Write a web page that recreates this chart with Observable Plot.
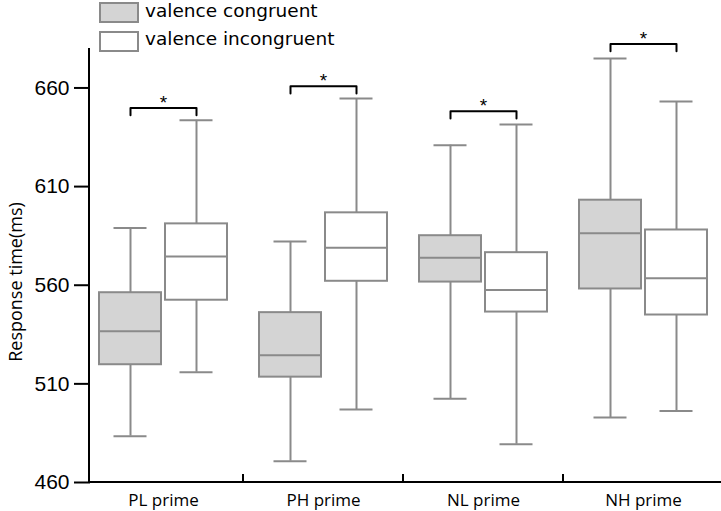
<!DOCTYPE html>
<html><head><meta charset="utf-8">
<script src="https://cdn.jsdelivr.net/npm/d3@7"></script>
<script src="https://cdn.jsdelivr.net/npm/@observablehq/plot@0.6"></script>
<style>
body{margin:0;background:#fff;}
#wrap{position:relative;width:721px;height:511px;overflow:hidden;}
.sw{position:absolute;left:99px;width:36px;height:17px;border:2px solid #8a8a8a;}
.lt{position:absolute;left:145px;font-family:"DejaVu Sans";font-size:18.5px;line-height:20px;white-space:nowrap;color:#000;}
#ylab{position:absolute;left:15px;top:282px;font-family:"Open Sans";font-size:18px;line-height:18px;white-space:nowrap;color:#000;transform:translate(-50%,-50%) rotate(-90deg);}
</style></head>
<body>
<div id="wrap">
  <div class="sw" style="top:2px;background:#d4d4d4;"></div>
  <div class="lt" style="top:1px;">valence congruent</div>
  <div class="sw" style="top:31px;background:#fff;"></div>
  <div class="lt" style="top:29.3px;">valence incongruent</div>
  <div id="ylab">Response time(ms)</div>
</div>
<script>
const categories = ["PL prime", "PH prime", "NL prime", "NH prime"];
const seriesNames = ["valence congruent", "valence incongruent"];
const yTicks = [460, 510, 560, 610, 660];

const congLower  = [483.5, 470.8, 502.5, 492.9];
const congQ1     = [519.7, 513.4, 561.6, 558.1];
const congMedian = [536.7, 524.5, 573.9, 586.4];
const congQ3     = [556.2, 546.1, 585.1, 603.1];
const congUpper  = [589.0, 582.2, 631.0, 674.9];

const incLower  = [515.9, 497.0, 479.4, 496.2];
const incQ1     = [552.4, 562.0, 546.4, 544.9];
const incMedian = [574.6, 579.0, 557.6, 563.6];
const incQ3     = [591.1, 596.7, 576.5, 588.0];
const incUpper  = [643.6, 654.6, 641.5, 653.1];

const bracketTop = [649.9, 660.9, 648.2, 682.3];
const sigLabels = ["*", "*", "*", "*"];

const boxes = [];
categories.forEach((c, i) => {
  boxes.push({cat: c, s: seriesNames[0], lo: congLower[i], q1: congQ1[i], med: congMedian[i], q3: congQ3[i], hi: congUpper[i]});
  boxes.push({cat: c, s: seriesNames[1], lo: incLower[i], q1: incQ1[i], med: incMedian[i], q3: incQ3[i], hi: incUpper[i]});
});
const legDrop = 3.7;
const brackets = categories.flatMap((c, i) => [
  {cat: c, s: seriesNames[0], y: bracketTop[i] - legDrop},
  {cat: c, s: seriesNames[0], y: bracketTop[i]},
  {cat: c, s: seriesNames[1], y: bracketTop[i]},
  {cat: c, s: seriesNames[1], y: bracketTop[i] - legDrop}
]);
const sig = categories.map((c, i) => ({cat: c, y: bracketTop[i], t: sigLabels[i]}));

const gray = "#8a8a8a";
const plot = Plot.plot({
  width: 721, height: 511,
  marginTop: 48, marginBottom: 29, marginLeft: 89, marginRight: 3,
  style: {fontFamily: "Open Sans", background: "transparent", overflow: "visible"},
  fx: {domain: categories, paddingInner: 0.0847, paddingOuter: 0, label: null},
  x: {domain: seriesNames, padding: 0, insetLeft: 7, insetRight: 7, axis: null},
  y: {domain: [460, 680]},
  color: {domain: seriesNames, range: ["#d4d4d4", "#ffffff"]},
  marks: [
    Plot.ruleX(boxes, {fx: "cat", x: "s", y1: "lo", y2: "hi", stroke: gray, strokeWidth: 2}),
    Plot.tickY(boxes, {fx: "cat", x: "s", y: "lo", stroke: gray, strokeWidth: 2, insetLeft: 16.5, insetRight: 16.5}),
    Plot.tickY(boxes, {fx: "cat", x: "s", y: "hi", stroke: gray, strokeWidth: 2, insetLeft: 16.5, insetRight: 16.5}),
    Plot.barY(boxes, {fx: "cat", x: "s", y1: "q1", y2: "q3", fill: "s", stroke: gray, strokeWidth: 2, insetLeft: 2, insetRight: 2}),
    Plot.tickY(boxes, {fx: "cat", x: "s", y: "med", stroke: gray, strokeWidth: 2, insetLeft: 2, insetRight: 2}),
    Plot.line(brackets, {fx: "cat", x: "s", y: "y", z: "cat", stroke: "black", strokeWidth: 2}),
    Plot.text(sig, {fx: "cat", y: "y", text: "t", dy: -5, fontSize: 19, fontFamily: "Liberation Sans", fill: "black"}),
    Plot.axisY({ticks: yTicks, tickSize: 16, tickPadding: 5, fontSize: 21, fontFamily: "Liberation Sans", strokeWidth: 2, label: null, color: "black"}),
    Plot.axisFx({anchor: "bottom", tickSize: 0, tickPadding: 11, fontSize: 17, fontFamily: "Open Sans", label: null, color: "black"})
  ]
});

// axis lines and category-boundary ticks, positioned with the plot's own scales
const ys = plot.scale("y"), fxs = plot.scale("fx");
const svg = d3.select(plot);
const yb = ys.apply(460), yt = ys.apply(680);
const x0 = fxs.range[0];
const step = fxs.apply(categories[1]) - fxs.apply(categories[0]);
const bw = fxs.bandwidth != null ? fxs.bandwidth : step * (1 - 0.0847);
const g = svg.append("g").attr("stroke", "black").attr("stroke-width", 2);
g.append("line").attr("x1", x0 - 1).attr("x2", 721).attr("y1", yb).attr("y2", yb);
g.append("line").attr("x1", x0).attr("x2", x0).attr("y1", yt).attr("y2", yb);
for (let i = 1; i < categories.length; i++) {
  const xb = (fxs.apply(categories[i - 1]) + bw + fxs.apply(categories[i])) / 2;
  g.append("line").attr("x1", xb).attr("x2", xb).attr("y1", yb).attr("y2", yb - 8);
}
plot.style.position = "absolute";
plot.style.left = "0";
plot.style.top = "0";
document.getElementById("wrap").prepend(plot);
</script>
</body></html>
